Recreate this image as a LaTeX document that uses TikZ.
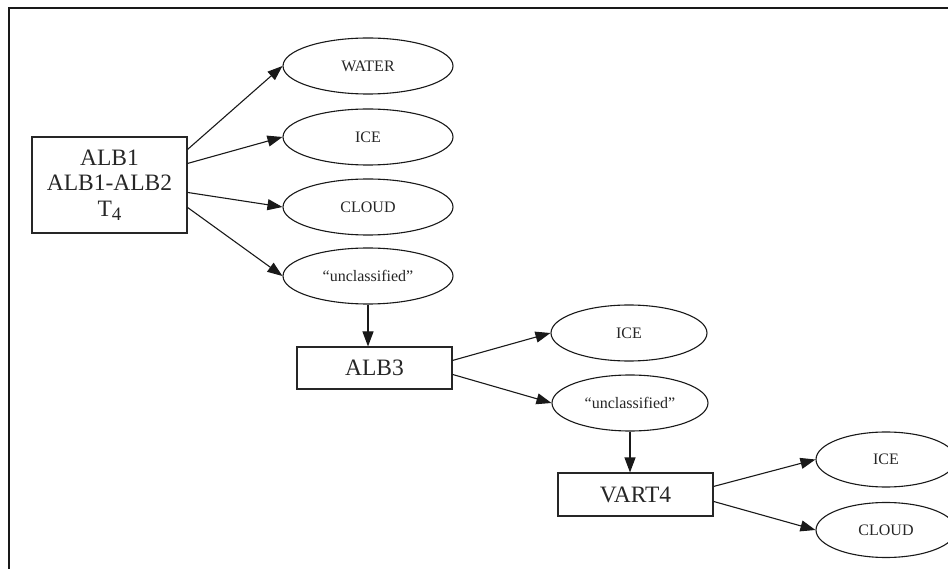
\documentclass[tikz,border=0pt]{standalone}
\usepackage{fontspec}
\setmainfont{Liberation Serif}
\usetikzlibrary{shapes.geometric,arrows.meta}
\begin{document}
\begin{tikzpicture}[x=1pt,y=-1pt,
  boxnode/.style={draw=black!85, line width=1.1pt, minimum width=155pt, minimum height=42pt, inner sep=0pt, font=\fontsize{23.5}{25.5}\selectfont, align=center, text=black!85},
  ovalnode/.style={draw=black!90, ellipse, line width=1.1pt, inner sep=0pt, minimum height=56pt, font=\fontsize{16}{18}\selectfont, text=black!85},
  conn/.style={draw=black!90, line width=1.1pt, -{Triangle[length=15pt,width=11pt]}}]
\useasboundingbox (0,0) rectangle (948,569);
\draw[line width=1.8pt, black!90] (9,569) -- (9,8) -- (948,8);
% column 1
\node[boxnode, minimum height=96pt] (b1) at (109.5,185) {ALB1\\ALB1-ALB2\\T\raisebox{-4pt}{\fontsize{19}{19}\selectfont 4}};
\node[ovalnode, minimum width=170pt] (w)  at (368,66)  {WATER};
\node[ovalnode, minimum width=170pt] (i1) at (368,137) {ICE};
\node[ovalnode, minimum width=170pt] (c1) at (368,207) {CLOUD};
\node[ovalnode, minimum width=170pt] (u1) at (368,276) {“unclassified”};
% column 2
\node[boxnode] (a3) at (374.5,368) {ALB3};
\node[ovalnode, minimum width=156pt] (i2) at (629,333) {ICE};
\node[ovalnode, minimum width=156pt] (u2) at (630,403) {“unclassified”};
% column 3
\node[boxnode, minimum height=43pt] (v4) at (635.5,494.5) {VART4};
\node[ovalnode, minimum width=140pt, minimum height=55pt] (i3) at (886,459.5) {ICE};
\node[ovalnode, minimum width=140pt, minimum height=55pt] (c3) at (886,530) {CLOUD};
% connectors
\draw[conn] ([yshift=-13pt]b1.north east) -- (w.west);
\draw[conn] ([yshift=-27pt]b1.north east) -- (i1.west);
\draw[conn] ([yshift=-56pt]b1.north east) -- (c1.west);
\draw[conn] ([yshift=-71pt]b1.north east) -- (u1.west);
\draw[conn] (u1.south) -- (u1.south |- a3.north);
\draw[conn] ([yshift=-14pt]a3.north east) -- (i2.west);
\draw[conn] ([yshift=-28pt]a3.north east) -- (u2.west);
\draw[conn] (u2.south) -- (u2.south |- v4.north);
\draw[conn] ([yshift=-14pt]v4.north east) -- (i3.west);
\draw[conn] ([yshift=-29pt]v4.north east) -- (c3.west);
\end{tikzpicture}
\end{document}
